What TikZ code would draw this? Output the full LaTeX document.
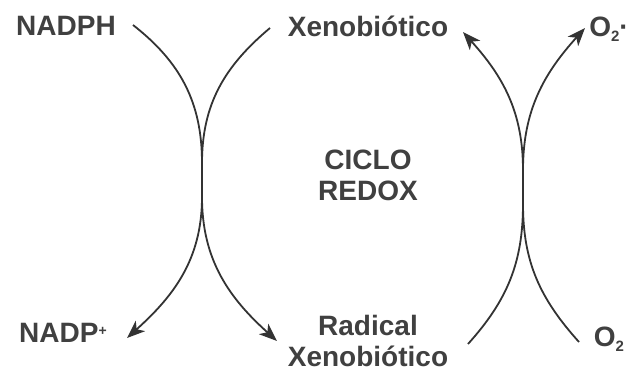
\documentclass[tikz,border=0pt]{standalone}
\usepackage{fontspec}
\setmainfont{Liberation Sans}
\usetikzlibrary{arrows.meta, positioning}
\newcommand{\lowtwo}{\raisebox{-0.35ex}{\fontsize{15}{15}\selectfont 2}}
\begin{document}
\begin{tikzpicture}[x=1pt, y=1pt,
    chem/.style={font=\fontsize{28}{31}\selectfont\bfseries, text=black!75, inner sep=0pt, align=center},
    flow/.style={line width=1.8pt, draw=black!80},
    tip/.style={-{Stealth[length=18pt, width=14pt, inset=5pt]}}]
    \useasboundingbox (0,0) rectangle (630,373);
    % species
    \node[chem] (nadph) at (66,347) {NADPH};
    \node[chem] (xeno) at (368,347) {Xenobiótico};
    \node[chem] (o2rad) at (609,344) {O\lowtwo·};
    \node[chem] (nadp) at (63,40) {NADP\raisebox{0.5ex}{\fontsize{14}{14}\selectfont +}};
    \node[chem] (radxeno) at (368,32) {Radical\\Xenobiótico};
    \node[chem] (o2) at (609,34) {O\lowtwo};
    \node[chem] (ciclo) at (368,198) {CICLO\\REDOX};
    % crossings
    \coordinate (lt) at (202,210);
    \coordinate (lb) at (202,176);
    \coordinate (rt) at (523,203);
    \coordinate (rb) at (523,169);
    % free ends
    \coordinate (a0) at (133,348);
    \coordinate (a1) at (277,32);
    \coordinate (b0) at (270,345);
    \coordinate (b1) at (127,35);
    \coordinate (c0) at (468,29);
    \coordinate (c1) at (585,345);
    \coordinate (d0) at (579,31);
    \coordinate (d1) at (463,341);
    % left pair
    \draw[flow, tip] (a0) to[out=-38, in=90] (lt) -- (lb) to[out=-90, in=138] (a1);
    \draw[flow, tip] (b0) to[out=-140, in=90] (lt) -- (lb) to[out=-90, in=42] (b1);
    % right pair
    \draw[flow, tip] (c0) to[out=48, in=-90] (rb) -- (rt) to[out=90, in=-132] (c1);
    \draw[flow, tip] (d0) to[out=132, in=-90] (rb) -- (rt) to[out=90, in=-48] (d1);
\end{tikzpicture}
\end{document}
